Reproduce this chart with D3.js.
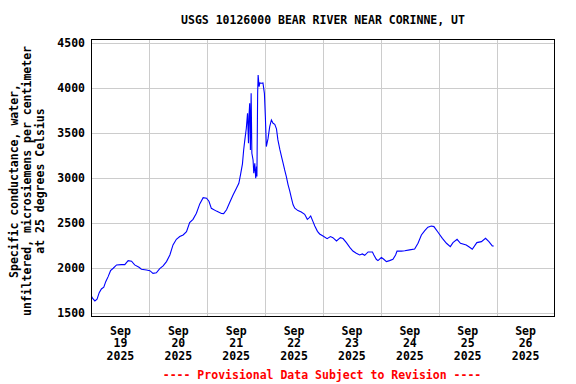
<!DOCTYPE html>
<html>
<head>
<meta charset="utf-8">
<script src="https://cdn.jsdelivr.net/npm/d3@7"></script>
<style>
  html, body { margin: 0; padding: 0; background: #fff; }
  svg text { font-family: "DejaVu Sans Mono", "Liberation Mono", monospace; font-weight: bold; font-size: 11.5px; }
</style>
</head>
<body>
<svg id="chart" width="576" height="384"></svg>
<script>
const title = "USGS 10126000 BEAR RIVER NEAR CORINNE, UT";
const yLabelLines = ["Specific conductance, water,", "unfiltered, microsiemens per centimeter", "at 25 degrees Celsius"];
const footer = "---- Provisional Data Subject to Revision ----";
const yTicks = [1500, 2000, 2500, 3000, 3500, 4000, 4500];
const xTickDays = ["2025-09-19", "2025-09-20", "2025-09-21", "2025-09-22", "2025-09-23", "2025-09-24", "2025-09-25", "2025-09-26"];
const xTickLabels = [["Sep","19","2025"],["Sep","20","2025"],["Sep","21","2025"],["Sep","22","2025"],["Sep","23","2025"],["Sep","24","2025"],["Sep","25","2025"],["Sep","26","2025"]];

// hours after 2025-09-19 00:00
const hours = [0,0.4,1.4,2.3,3.2,4.1,5.1,5.9,6.9,7.9,9.0,10.4,12.4,13.8,15.2,16.6,17.9,19.7,20.7,22.8,
  24.2,25.5,26.9,28.3,29.7,31.1,32.5,33.8,35.2,36.6,38.0,39.4,40.7,42.1,43.5,44.9,46.3,47.7,48.7,49.7,
  51.8,53.9,54.8,56.0,57.3,58.7,60.1,61.1,61.8,62.6,63.1,63.5,64.2,64.7,65.1,65.3,65.6,65.9,66.2,66.5,
  67.0,67.3,67.7,68.1,68.4,68.6,68.9,69.1,69.5,69.8,70.5,71.1,71.7,72.1,72.5,73.2,73.9,74.6,75.3,76.0,
  76.7,77.3,78.1,78.8,79.4,80.1,80.8,81.5,82.2,82.9,83.6,84.3,85.6,87.0,88.4,89.5,90.2,90.9,91.9,92.6,
  93.7,94.6,96.0,97.7,99.1,100.1,101.6,103.2,104.3,105.7,107.1,108.4,109.8,111.2,112.3,113.3,114.7,116.5,117.1,118.1,
  118.8,120.2,121.2,122.3,123.6,125.0,126.1,126.7,128.5,129.9,131.9,134.0,135.4,136.8,138.2,139.5,140.9,142.0,143.7,145.5,
  147.2,148.8,149.9,151.6,153.0,155.4,156.8,157.9,159.8,161.7,163.4,164.8,166.2,166.8];
const conductance = [1690,1667,1637,1656,1729,1770,1789,1851,1907,1973,2000,2037,2040,2040,2085,2078,2037,2011,1989,1981,
  1973,1944,1950,1996,2026,2074,2148,2259,2322,2352,2370,2407,2507,2544,2611,2715,2784,2778,2745,2666,
  2635,2608,2607,2650,2730,2814,2890,2944,3040,3160,3314,3407,3556,3722,3389,3689,3833,3314,3944,3278,
  3203,3056,3167,3000,3130,3019,3944,4148,4018,4060,4056,4060,3944,3685,3352,3440,3574,3648,3611,3600,
  3550,3426,3320,3241,3175,3093,3019,2930,2860,2780,2705,2667,2641,2625,2600,2544,2560,2581,2515,2470,
  2410,2381,2359,2329,2352,2340,2304,2340,2330,2285,2233,2192,2167,2148,2159,2144,2181,2181,2148,2100,
  2085,2119,2100,2074,2085,2100,2148,2192,2190,2195,2204,2213,2278,2370,2418,2456,2470,2463,2400,2333,
  2278,2241,2285,2322,2278,2259,2233,2211,2285,2296,2333,2296,2248,2248];

const svg = d3.select("#chart");
const L = 91.5, R = 554.5, T = 39.5, B = 316.5;
const t0 = new Date(2025, 8, 19, 0, 0);
const x = d3.scaleTime().domain([t0, new Date(2025, 8, 27, 0, 0)]).range([L, R]);
const y = d3.scaleLinear().domain([1464, 4542]).range([B, T]);

const data = hours.map((h, i) => ({ t: new Date(t0.getTime() + h * 3600000), v: conductance[i] }));
const parseDay = d3.timeParse("%Y-%m-%d");
const dayDates = xTickDays.map(parseDay);

// gridlines
const grid = svg.append("g").attr("stroke", "#cccccc").attr("stroke-width", 1).attr("shape-rendering", "crispEdges");
grid.selectAll(".h").data(yTicks).join("line")
  .attr("x1", L).attr("x2", R).attr("y1", d => Math.round(y(d)) + 0.5).attr("y2", d => Math.round(y(d)) + 0.5);
grid.selectAll(".v").data(dayDates.slice(1)).join("line")
  .attr("y1", T).attr("y2", B).attr("x1", d => Math.round(x(d)) + 0.5).attr("x2", d => Math.round(x(d)) + 0.5);

// line
const line = d3.line().x(d => x(d.t)).y(d => y(d.v));
svg.append("path").datum(data).attr("d", line)
  .attr("fill", "none").attr("stroke", "#0000ff").attr("stroke-width", 1.1);

// frame
svg.append("rect").attr("x", L).attr("y", T).attr("width", R - L).attr("height", B - T)
  .attr("fill", "none").attr("stroke", "#000").attr("stroke-width", 1).attr("shape-rendering", "crispEdges");

// y tick labels
svg.append("g").selectAll("text").data(yTicks).join("text")
  .attr("x", 85).attr("y", d => y(d) + 4).attr("text-anchor", "end").text(d => d);

// x tick labels (centered on day noon)
const xl = svg.append("g").selectAll("g").data(dayDates).join("g")
  .attr("transform", d => `translate(${x(new Date(d.getTime() + 12 * 3600000))},0)`);
xl.each(function(d, i) {
  const g = d3.select(this);
  xTickLabels[i].forEach((s, j) => {
    g.append("text").attr("x", 0).attr("y", 334.5 + j * 12.7).attr("text-anchor", "middle").text(s);
  });
});

// title
svg.append("text").attr("x", (L + R) / 2).attr("y", 24).attr("text-anchor", "middle").text(title);

// y axis title
const yt = svg.append("g").attr("transform", "translate(0,181) rotate(-90)");
yLabelLines.forEach((s, j) => {
  yt.append("text").attr("x", 0).attr("y", 18 + j * 13).attr("text-anchor", "middle").text(s);
});

// footer
svg.append("text").attr("x", 322).attr("y", 379).attr("text-anchor", "middle").attr("fill", "#ff0000").text(footer);
</script>
</body>
</html>
